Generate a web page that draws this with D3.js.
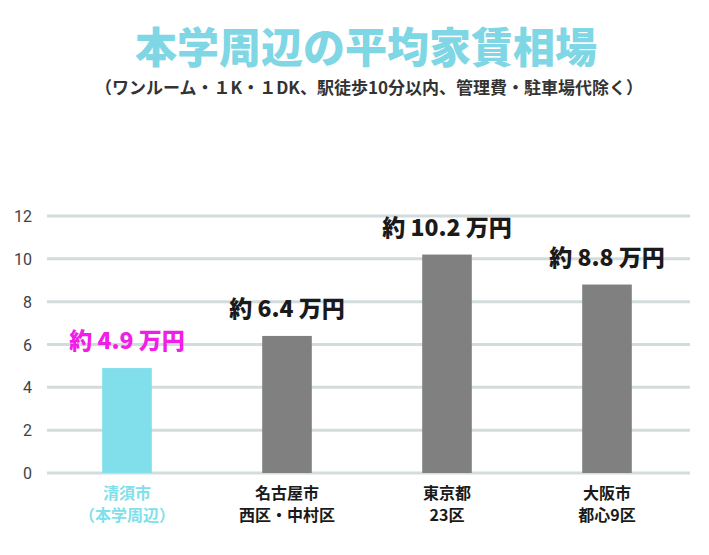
<!DOCTYPE html>
<html><head><meta charset="utf-8">
<script src="https://cdn.jsdelivr.net/npm/d3@7"></script>
<style>body{margin:0;background:#fff;font-family:"Noto Sans CJK JP","Noto Sans",sans-serif;}</style>
</head><body>
<svg id="chart" width="709" height="555"></svg>
<script>
// data
var categories = [["清須市", "（本学周辺）"], ["名古屋市", "西区・中村区"], ["東京都", "23区"], ["大阪市", "都心9区"]];
var rents = [4.9, 6.4, 10.2, 8.8];
var valueLabels = ["約 4.9 万円", "約 6.4 万円", "約 10.2 万円", "約 8.8 万円"];
var yTicks = [0, 2, 4, 6, 8, 10, 12];

var svg = d3.select("#chart");
var highlight = "#80dfea", grey = "#808080";

svg.append("text").attr("x", 366).attr("y", 63).attr("text-anchor", "middle")
    .attr("font-size", 42).attr("font-weight", 900).attr("fill", "#7fd6e4")
    .text("本学周辺の平均家賃相場");
svg.append("text").attr("x", 369).attr("y", 94).attr("text-anchor", "middle")
    .attr("font-size", 17).attr("font-weight", 700).attr("fill", "#333")
    .text("（ワンルーム・１K・１DK、駅徒歩10分以内、管理費・駐車場代除く）");

var x = d3.scaleBand().domain(d3.range(categories.length)).range([47, 687]).paddingInner(0.69).paddingOuter(0.345);
var y = d3.scaleLinear().domain([0, 12]).range([473, 216]);

svg.append("g").selectAll("line").data(yTicks).enter().append("line")
    .attr("x1", 47).attr("x2", 690).attr("y1", function(d){ return y(d); }).attr("y2", function(d){ return y(d); })
    .attr("stroke", "#d3dcdc").attr("stroke-width", 3);
svg.append("g").selectAll("text").data(yTicks).enter().append("text")
    .attr("x", 32).attr("y", function(d){ return y(d) + 6; }).attr("text-anchor", "end")
    .attr("font-family", "Roboto, sans-serif").attr("font-size", 16).attr("fill", "#3c4247")
    .text(function(d){ return d; });

svg.append("g").selectAll("rect").data(rents).enter().append("rect")
    .attr("x", function(d, i){ return x(i); }).attr("width", x.bandwidth())
    .attr("y", function(d){ return y(d); }).attr("height", function(d){ return y(0) - y(d); })
    .attr("fill", function(d, i){ return i === 0 ? highlight : grey; });

svg.append("g").selectAll("text").data(valueLabels).enter().append("text")
    .attr("x", function(d, i){ return x(i) + x.bandwidth() / 2; })
    .attr("y", function(d, i){ return y(rents[i]) - 19; })
    .attr("text-anchor", "middle").attr("font-size", 23).attr("font-weight", 900)
    .attr("fill", function(d, i){ return i === 0 ? "#f01ee6" : "#1a1a1a"; })
    .text(function(d){ return d; });

var cat = svg.append("g").selectAll("text").data(categories).enter().append("text")
    .attr("text-anchor", "middle").attr("font-size", 16).attr("font-weight", 700)
    .attr("fill", function(d, i){ return i === 0 ? highlight : "#1a1a1a"; });
cat.each(function(d, i){
    var t = d3.select(this);
    d.forEach(function(line, j){
        t.append("tspan").attr("x", x(i) + x.bandwidth() / 2).attr("y", 499 + j * 22).text(line);
    });
});
</script>
</body></html>
